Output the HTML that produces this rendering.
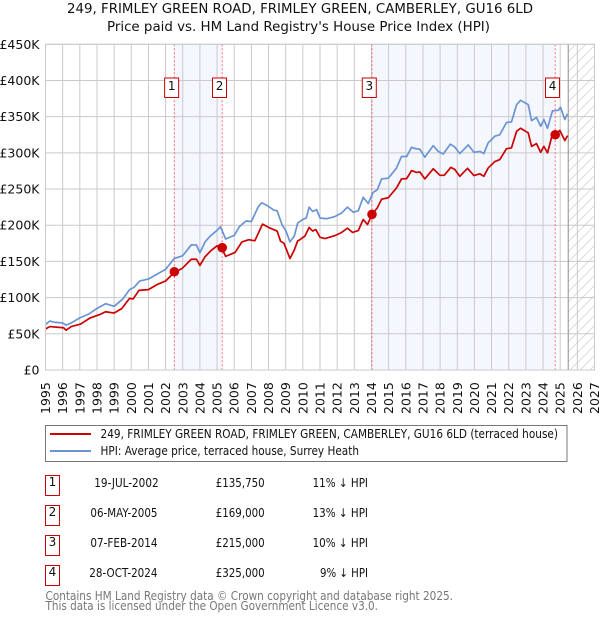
<!DOCTYPE html>
<html><head><meta charset="utf-8">
<style>
html,body{margin:0;padding:0;background:#fff;width:600px;height:620px;overflow:hidden}
svg{display:block}
text{font-family:"DejaVu Sans","Liberation Sans",sans-serif;fill:#111}
</style></head>
<body>
<svg id="c" xmlns="http://www.w3.org/2000/svg" width="600" height="620" viewBox="0 0 600 620">
<defs>
<pattern id="hatch" patternUnits="userSpaceOnUse" width="10" height="10">
<path d="M-1 11L11 -1" stroke="#d6d6d6" stroke-width="0.9" fill="none"/>
</pattern>
</defs>
<text x="67" y="13" font-size="13" textLength="466" lengthAdjust="spacingAndGlyphs">249, FRIMLEY GREEN ROAD, FRIMLEY GREEN, CAMBERLEY, GU16 6LD</text>
<text x="107" y="31" font-size="13" textLength="383" lengthAdjust="spacingAndGlyphs">Price paid vs. HM Land Registry's House Price Index (HPI)</text>
<g id="plot"></g>
<g>
<rect x="45.5" y="425.5" width="521.5" height="36" fill="#fff" stroke="#777" stroke-width="1"/>
<line x1="50" x2="91" y1="434" y2="434" stroke="#cc0000" stroke-width="2"/>
<text x="100.5" y="438" font-size="12" textLength="457.5" lengthAdjust="spacingAndGlyphs">249, FRIMLEY GREEN ROAD, FRIMLEY GREEN, CAMBERLEY, GU16 6LD (terraced house)</text>
<line x1="50" x2="91" y1="451" y2="451" stroke="#6a94d4" stroke-width="2"/>
<text x="100.5" y="455" font-size="12" textLength="258.5" lengthAdjust="spacingAndGlyphs">HPI: Average price, terraced house, Surrey Heath</text>
</g>
<g>
<rect x="45.5" y="475.5" width="14" height="20" fill="#fff" stroke="#cc0000"/>
<text x="52.5" y="486" font-size="12" text-anchor="middle">1</text>
<text x="94.3" y="487" font-size="12" textLength="64.3" lengthAdjust="spacingAndGlyphs">19-JUL-2002</text>
<text x="215.7" y="487" font-size="12" textLength="49" lengthAdjust="spacingAndGlyphs">£135,750</text>
<text x="312.6" y="487" font-size="12" textLength="55.4" lengthAdjust="spacingAndGlyphs">11% ↓ HPI</text>
<rect x="45.5" y="505.5" width="14" height="20" fill="#fff" stroke="#cc0000"/>
<text x="52.5" y="516" font-size="12" text-anchor="middle">2</text>
<text x="90.4" y="517" font-size="12" textLength="67.1" lengthAdjust="spacingAndGlyphs">06-MAY-2005</text>
<text x="215.7" y="517" font-size="12" textLength="49" lengthAdjust="spacingAndGlyphs">£169,000</text>
<text x="312.6" y="517" font-size="12" textLength="55.4" lengthAdjust="spacingAndGlyphs">13% ↓ HPI</text>
<rect x="45.5" y="535.5" width="14" height="20" fill="#fff" stroke="#cc0000"/>
<text x="52.5" y="546" font-size="12" text-anchor="middle">3</text>
<text x="90.4" y="547" font-size="12" textLength="67.1" lengthAdjust="spacingAndGlyphs">07-FEB-2014</text>
<text x="215.7" y="547" font-size="12" textLength="49" lengthAdjust="spacingAndGlyphs">£215,000</text>
<text x="312.6" y="547" font-size="12" textLength="55.4" lengthAdjust="spacingAndGlyphs">10% ↓ HPI</text>
<rect x="45.5" y="565.5" width="14" height="20" fill="#fff" stroke="#cc0000"/>
<text x="52.5" y="576" font-size="12" text-anchor="middle">4</text>
<text x="89.3" y="577" font-size="12" textLength="68.2" lengthAdjust="spacingAndGlyphs">28-OCT-2024</text>
<text x="215.7" y="577" font-size="12" textLength="49" lengthAdjust="spacingAndGlyphs">£325,000</text>
<text x="320" y="577" font-size="12" textLength="48" lengthAdjust="spacingAndGlyphs">9% ↓ HPI</text>
</g>
<text x="45.5" y="600" font-size="12" textLength="407.5" lengthAdjust="spacingAndGlyphs" style="fill:#777">Contains HM Land Registry data © Crown copyright and database right 2025.</text>
<text x="45.5" y="610" font-size="12" textLength="332.5" lengthAdjust="spacingAndGlyphs" style="fill:#777">This data is licensed under the Open Government Licence v3.0.</text>
</svg>
<script>
var xTicks = [1995,1996,1997,1998,1999,2000,2001,2002,2003,2004,2005,2006,2007,2008,2009,2010,2011,2012,2013,2014,2015,2016,2017,2018,2019,2020,2021,2022,2023,2024,2025,2026,2027];
var yTicks = [0,50,100,150,200,250,300,350,400,450];
var yTickLabels = ['£0','£50K','£100K','£150K','£200K','£250K','£300K','£350K','£400K','£450K'];
var hpiYears = [1995,1995.25,1995.5,1996,1996.2,1996.5,1997,1997.5,1998,1998.5,1999,1999.5,1999.9,2000.15,2000.5,2001,2001.5,2002,2002.5,2003,2003.5,2003.8,2004,2004.3,2004.6,2005,2005.2,2005.5,2006,2006.3,2006.7,2007,2007.4,2007.6,2008,2008.3,2008.5,2008.8,2009,2009.25,2009.5,2009.7,2010,2010.2,2010.37,2010.57,2010.8,2011,2011.4,2011.87,2012.26,2012.6,2012.94,2013.23,2013.52,2013.81,2014.1,2014.34,2014.59,2014.98,2015.46,2015.75,2016.05,2016.34,2016.53,2016.82,2017.11,2017.6,2017.89,2018.18,2018.6,2018.86,2019.15,2019.64,2019.97,2020.32,2020.55,2020.8,2021.19,2021.48,2021.87,2022.16,2022.46,2022.69,2023.14,2023.33,2023.62,2023.86,2024.05,2024.26,2024.55,2024.89,2025.02,2025.27,2025.43];
var hpiValues = [63,67.6,66,65,62,65,72,77,85,91.6,88,98,111,114,123,125.6,132.5,139,154,158,173,172.6,162,177,185,193,198,181,186,198,206,205,225.5,231,226,221,220,200,193,177,185,203,208,210,225,219,221.6,210,209,212,217,225,218,220,238.6,230,245.5,249,264,265,279,295,295,307.7,306,305,294,310,302,298.5,312,308,299,311,300.8,302,299,313.7,323,325,342,342.7,366.6,372.6,366.6,344.5,349,336.7,346,334,358,358.8,363,346,354];
var priceYears = [1995,1995.25,1996.05,1996.2,1996.5,1997.05,1997.6,1998.2,1998.5,1999,1999.45,1999.9,2000.1,2000.45,2001,2001.5,2002,2002.52,2002.95,2003.5,2003.8,2004,2004.3,2004.65,2005,2005.25,2005.5,2006.05,2006.45,2006.85,2007.2,2007.65,2008,2008.5,2008.7,2008.9,2009.25,2009.5,2009.7,2009.83,2010.12,2010.37,2010.57,2010.76,2011,2011.29,2011.87,2012.26,2012.6,2012.9,2013.23,2013.52,2013.77,2014.05,2014.34,2014.59,2014.98,2015.46,2015.75,2016.05,2016.34,2016.63,2016.82,2017.11,2017.6,2017.99,2018.24,2018.63,2018.86,2019.15,2019.6,2019.97,2020.32,2020.55,2020.8,2021.19,2021.48,2021.87,2022.16,2022.46,2022.69,2023.14,2023.33,2023.62,2023.86,2024.05,2024.26,2024.54,2024.7,2024.98,2025.27,2025.43];
var priceValues = [56.6,60,58.4,55,60,63.5,72,77,80.5,78.7,85,99,98,110,111,118,123,135,140,153,153,144.5,156.5,165,171.6,170,157,162.4,177,180,178.5,201.5,197,192,178,175,154,165.7,178.5,180,185,197,192,194,183.4,181.6,185.7,190,196,190,192.6,208,201,215.6,224,236,238,251.5,264,264.4,275.5,273,273.6,264,278,269,269,280,277,267.6,278.7,268.6,271,267.6,279,288,290.7,305.8,306.8,329.8,334,327.5,309,312.7,300.8,309,300,325,325,331,317,323.8];
var saleLabels = ['1','2','3','4'];
var saleYears = [2002.51,2005.30,2014.03,2024.71];
var saleValues = [135.75,169,215,325];
var lastDataYear = 2025.47;

var NS = 'http://www.w3.org/2000/svg';
var plot = document.getElementById('plot');
var X0 = 45.5, X1 = 594.5, Y0 = 370, Y1 = 44.3;
function xScale(v){ return X0 + (v - 1995) * (X1 - X0) / 32; }
function yScale(v){ return Y0 - v * (Y0 - Y1) / 450; }
function make(tag, attrs, text){
  var el = document.createElementNS(NS, tag);
  for (var k in attrs) el.setAttribute(k, attrs[k]);
  if (text !== undefined) el.textContent = text;
  plot.appendChild(el);
  return el;
}
function linePath(xs, ys){
  var d = '';
  for (var i = 0; i < xs.length; i++) d += (i ? 'L' : 'M') + xScale(xs[i]).toFixed(2) + ' ' + yScale(ys[i]).toFixed(2);
  return d;
}
var el;
// shaded periods between sales
el = make('rect', {x:xScale(saleYears[0]), y:Y1, width:xScale(saleYears[1])-xScale(saleYears[0]), height:Y0-Y1, fill:'#f4f7fe'});


el = make('rect', {x:xScale(saleYears[2]), y:Y1, width:xScale(saleYears[3])-xScale(saleYears[2]), height:Y0-Y1, fill:'#f4f7fe'});


// hatch for no-data region
el = make('rect', {x:xScale(lastDataYear), y:Y1, width:X1-xScale(lastDataYear), height:Y0-Y1, fill:'url(#hatch)'});


// gridlines and tick labels
xTicks.forEach(function(t){
  var x = xScale(t);
  var g = make('line', {x1:x, x2:x, y1:Y1, y2:Y0, stroke:'#cacaca', 'stroke-width':1});
  
  
  var l = make('text', {transform:'translate(' + (x + 4.5) + ',414) rotate(-90)', 'font-size':'12.5'}, String(t));
  
  
});
yTicks.forEach(function(t, i){
  var y = yScale(t);
  var g = make('line', {x1:X0, x2:X1, y1:y, y2:y, stroke:'#cacaca', 'stroke-width':1});
  
  
  var l = make('text', {x:39.5, y:y + 4.5, 'font-size':'12.5', 'text-anchor':'end'}, yTickLabels[i]);
  
  
});
// sale date lines
saleYears.forEach(function(s){
  var x = xScale(s);
  var d = make('line', {x1:x, x2:x, y1:Y1, y2:Y0, stroke:'#ff6b6b', 'stroke-width':1, 'stroke-dasharray':'2 2'});
  
  
});
// end-of-data line
el = make('line', {x1:xScale(lastDataYear), x2:xScale(lastDataYear), y1:Y1, y2:Y0, stroke:'#999', 'stroke-width':1.1});


// series
el = make('path', {d:linePath(hpiYears, hpiValues), fill:'none', stroke:'#6a94d4', 'stroke-width':1.7, 'stroke-linejoin':'round'});


el = make('path', {d:linePath(priceYears, priceValues), fill:'none', stroke:'#cc0000', 'stroke-width':1.7, 'stroke-linejoin':'round'});


// sale markers and numbered flags
saleYears.forEach(function(s, i){
  var x = xScale(s);
  var m = make('circle', {cx:x, cy:yScale(saleValues[i]), r:4.8, fill:'#cc0000'});
  
  
  var b = make('rect', {x:x - 9.7, y:78, width:14, height:19.5, fill:'#fff', stroke:'#cc0000', 'stroke-width':1});
  
  
  var t = make('text', {x:x - 2.7, y:90, 'font-size':'12', 'text-anchor':'middle'}, saleLabels[i]);
  
  
});
// plot border
el = make('rect', {x:X0, y:Y1, width:X1-X0, height:Y0-Y1, fill:'none', stroke:'#cacaca', 'stroke-width':1});


</script>
</body></html>
